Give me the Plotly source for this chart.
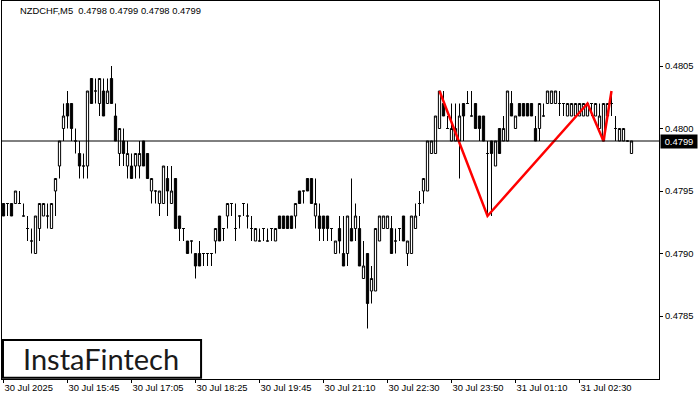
import plotly.graph_objects as go

# ---- data (NZDCHF, M5) ----
open_ = [
    0.4794, 0.4794, 0.4794, 0.4794, 0.4794, 0.4793, 0.4792, 0.4791, 0.4790, 0.4792,
    0.4793, 0.4793, 0.4792, 0.4795, 0.4797, 0.4800, 0.4802, 0.4802, 0.4799, 0.4798,
    0.4797, 0.4797, 0.4804, 0.4803, 0.4802, 0.4803, 0.4802, 0.4804, 0.4801, 0.4798,
    0.4799, 0.4797, 0.4797, 0.4797, 0.4797, 0.4799, 0.4798, 0.4795, 0.4795, 0.4794,
    0.4794, 0.4796, 0.4794, 0.4796, 0.4793, 0.4792, 0.4791, 0.4791, 0.4790, 0.4790,
    0.4790, 0.4790, 0.4790, 0.4791, 0.4793, 0.4792, 0.4793, 0.4794, 0.4792, 0.4793,
    0.4794, 0.4793, 0.4792, 0.4791, 0.4791, 0.4792, 0.4791, 0.4792, 0.4791, 0.4793,
    0.4793, 0.4793, 0.4793, 0.4793, 0.4795, 0.4795, 0.4796, 0.4796, 0.4793, 0.4793,
    0.4793, 0.4793, 0.4792, 0.4790, 0.4792, 0.4790, 0.4790, 0.4792, 0.4792, 0.4792,
    0.4788, 0.4790, 0.4787, 0.4787, 0.4791, 0.4792, 0.4792, 0.4792, 0.4791, 0.4792,
    0.4793, 0.4790, 0.4790, 0.4792, 0.4794, 0.4795, 0.4795, 0.4798, 0.4798, 0.4800,
    0.4802, 0.4800, 0.4799, 0.4799, 0.4799, 0.4802, 0.4802, 0.4801, 0.4802, 0.4801,
    0.4801, 0.4798, 0.4799, 0.4797, 0.4800, 0.4799, 0.4799, 0.4802, 0.4800, 0.4802,
    0.4802, 0.4802, 0.4802, 0.4800, 0.4800, 0.4801, 0.4802, 0.4802, 0.4802, 0.4802,
    0.4802, 0.4801, 0.4801, 0.4801, 0.4801, 0.4801, 0.4801, 0.4802, 0.4801, 0.4800,
    0.4799, 0.4801, 0.4802, 0.4800, 0.4799, 0.4799, 0.4799, 0.4798,
]
high = [
    0.4794, 0.4794, 0.4794, 0.4795, 0.4795, 0.4794, 0.4793, 0.4792, 0.4793, 0.4794,
    0.4794, 0.4794, 0.4794, 0.4796, 0.4799, 0.4802, 0.4803, 0.4802, 0.4800, 0.4799,
    0.4798, 0.4803, 0.4804, 0.4804, 0.4804, 0.4804, 0.4804, 0.4805, 0.4802, 0.4800,
    0.4800, 0.4799, 0.4798, 0.4798, 0.4799, 0.4799, 0.4798, 0.4796, 0.4795, 0.4795,
    0.4797, 0.4797, 0.4797, 0.4796, 0.4793, 0.4792, 0.4791, 0.4791, 0.4790, 0.4791,
    0.4790, 0.4790, 0.4790, 0.4792, 0.4793, 0.4792, 0.4794, 0.4794, 0.4794, 0.4793,
    0.4794, 0.4794, 0.4793, 0.4792, 0.4792, 0.4792, 0.4792, 0.4792, 0.4792, 0.4793,
    0.4793, 0.4793, 0.4793, 0.4794, 0.4795, 0.4795, 0.4796, 0.4796, 0.4796, 0.4794,
    0.4793, 0.4793, 0.4792, 0.4791, 0.4793, 0.4793, 0.4793, 0.4796, 0.4794, 0.4793,
    0.4791, 0.4790, 0.4789, 0.4792, 0.4793, 0.4793, 0.4793, 0.4793, 0.4792, 0.4792,
    0.4793, 0.4791, 0.4793, 0.4794, 0.4795, 0.4796, 0.4799, 0.4799, 0.4801, 0.4803,
    0.4803, 0.4801, 0.4802, 0.4802, 0.4802, 0.4802, 0.4803, 0.4803, 0.4802, 0.4801,
    0.4801, 0.4799, 0.4799, 0.4799, 0.4800, 0.4801, 0.4803, 0.4803, 0.4801, 0.4802,
    0.4802, 0.4802, 0.4802, 0.4801, 0.4802, 0.4802, 0.4803, 0.4803, 0.4803, 0.4803,
    0.4802, 0.4802, 0.4802, 0.4802, 0.4802, 0.4802, 0.4802, 0.4802, 0.4802, 0.4802,
    0.4802, 0.4802, 0.4803, 0.4801, 0.4800, 0.4800, 0.4799, 0.4799,
]
low = [
    0.4793, 0.4793, 0.4793, 0.4794, 0.4794, 0.4793, 0.4791, 0.4790, 0.4790, 0.4791,
    0.4793, 0.4792, 0.4792, 0.4793, 0.4796, 0.4799, 0.4800, 0.4799, 0.4798, 0.4796,
    0.4796, 0.4796, 0.4802, 0.4802, 0.4801, 0.4801, 0.4802, 0.4802, 0.4799, 0.4797,
    0.4797, 0.4796, 0.4796, 0.4796, 0.4796, 0.4797, 0.4796, 0.4794, 0.4794, 0.4793,
    0.4794, 0.4793, 0.4794, 0.4792, 0.4791, 0.4791, 0.4790, 0.4790, 0.4788, 0.4789,
    0.4789, 0.4789, 0.4789, 0.4790, 0.4791, 0.4791, 0.4792, 0.4793, 0.4791, 0.4792,
    0.4793, 0.4792, 0.4791, 0.4791, 0.4791, 0.4791, 0.4791, 0.4791, 0.4791, 0.4792,
    0.4792, 0.4792, 0.4792, 0.4792, 0.4794, 0.4794, 0.4795, 0.4794, 0.4792, 0.4791,
    0.4791, 0.4791, 0.4791, 0.4790, 0.4790, 0.4789, 0.4789, 0.4791, 0.4791, 0.4789,
    0.4788, 0.4784, 0.4786, 0.4787, 0.4791, 0.4792, 0.4792, 0.4790, 0.4790, 0.4791,
    0.4791, 0.4789, 0.4790, 0.4792, 0.4793, 0.4794, 0.4795, 0.4798, 0.4798, 0.4800,
    0.4801, 0.4800, 0.4799, 0.4799, 0.4796, 0.4799, 0.4802, 0.4801, 0.4800, 0.4799,
    0.4799, 0.4793, 0.4793, 0.4797, 0.4798, 0.4799, 0.4799, 0.4801, 0.4800, 0.4801,
    0.4801, 0.4801, 0.4801, 0.4799, 0.4799, 0.4801, 0.4802, 0.4802, 0.4802, 0.4801,
    0.4801, 0.4801, 0.4801, 0.4801, 0.4801, 0.4801, 0.4801, 0.4801, 0.4801, 0.4800,
    0.4799, 0.4801, 0.4801, 0.4799, 0.4799, 0.4799, 0.4799, 0.4798,
]
close = [
    0.4793, 0.4794, 0.4793, 0.4795, 0.4794, 0.4793, 0.4792, 0.4791, 0.4793, 0.4794,
    0.4794, 0.4793, 0.4794, 0.4796, 0.4799, 0.4801, 0.4801, 0.4800, 0.4799, 0.4797,
    0.4797, 0.4803, 0.4802, 0.4803, 0.4804, 0.4801, 0.4803, 0.4802, 0.4799, 0.4800,
    0.4798, 0.4798, 0.4796, 0.4798, 0.4798, 0.4797, 0.4796, 0.4796, 0.4795, 0.4795,
    0.4797, 0.4795, 0.4795, 0.4792, 0.4792, 0.4792, 0.4790, 0.4791, 0.4789, 0.4789,
    0.4790, 0.4790, 0.4790, 0.4792, 0.4791, 0.4792, 0.4794, 0.4794, 0.4792, 0.4793,
    0.4794, 0.4793, 0.4792, 0.4792, 0.4791, 0.4792, 0.4791, 0.4792, 0.4792, 0.4792,
    0.4792, 0.4792, 0.4792, 0.4794, 0.4794, 0.4795, 0.4795, 0.4794, 0.4794, 0.4792,
    0.4792, 0.4792, 0.4792, 0.4791, 0.4791, 0.4789, 0.4793, 0.4791, 0.4793, 0.4789,
    0.4789, 0.4786, 0.4788, 0.4792, 0.4793, 0.4793, 0.4793, 0.4790, 0.4791, 0.4792,
    0.4791, 0.4791, 0.4793, 0.4793, 0.4794, 0.4796, 0.4799, 0.4799, 0.4801, 0.4803,
    0.4801, 0.4800, 0.4800, 0.4800, 0.4801, 0.4801, 0.4802, 0.4801, 0.4800, 0.4800,
    0.4799, 0.4798, 0.4798, 0.4799, 0.4798, 0.4800, 0.4803, 0.4801, 0.4801, 0.4801,
    0.4801, 0.4801, 0.4801, 0.4799, 0.4802, 0.4801, 0.4803, 0.4803, 0.4803, 0.4802,
    0.4802, 0.4802, 0.4802, 0.4802, 0.4802, 0.4802, 0.4802, 0.4802, 0.4802, 0.4801,
    0.4802, 0.4802, 0.4802, 0.4800, 0.4800, 0.4800, 0.4799, 0.4799,
]
bar_index = list(range(len(close)))

time_tick_bars = [0, 16, 32, 48, 64, 80, 96, 112, 128, 144]
time_tick_labels = ["30 Jul 2025", "30 Jul 15:45", "30 Jul 17:05", "30 Jul 18:25",
                    "30 Jul 19:45", "30 Jul 21:10", "30 Jul 22:30", "30 Jul 23:50",
                    "31 Jul 01:10", "31 Jul 02:30"]
price_ticks = [0.4785, 0.4790, 0.4795, 0.4800, 0.4805]
price_tick_labels = ["0.4785", "0.4790", "0.4795", "0.4800", "0.4805"]

# pattern (red) line vertices
pattern_bars = [109, 121, 146, 150, 152]
pattern_prices = [0.4803, 0.4793, 0.4802, 0.4799, 0.4803]

current_price = 0.4799
header = "NZDCHF,M5\u00a0\u00a00.4798 0.4799 0.4798 0.4799"

FONT = "Liberation Sans"
FS = 9.4

fig = go.Figure()
fig.add_trace(go.Candlestick(
    x=bar_index, open=open_, high=high, low=low, close=close,
    increasing=dict(line=dict(color="black", width=1), fillcolor="white"),
    decreasing=dict(line=dict(color="black", width=1), fillcolor="black"),
    whiskerwidth=0, showlegend=False, hoverinfo="skip",
))
fig.add_trace(go.Scatter(
    x=pattern_bars, y=pattern_prices, mode="lines",
    line=dict(color="#ff0000", width=2.5), showlegend=False, hoverinfo="skip",
))

fig.add_shape(type="line", xref="paper", x0=0, x1=1, yref="y",
              y0=current_price, y1=current_price, line=dict(color="black", width=1))

# logo box
fig.add_shape(type="rect", xref="paper", yref="paper",
              x0=0.0015, x1=0.303, y0=0.003, y1=0.1035,
              line=dict(color="black", width=2), fillcolor="white", layer="above")
fig.add_annotation(text="InstaFintech", xref="paper", yref="paper",
                   x=0.151, y=0.053, xanchor="center", yanchor="middle",
                   showarrow=False, font=dict(family="Lato", size=29, color="#1a1a1a"))

# header
fig.add_annotation(text=header, xref="paper", yref="paper", x=0.024, y=0.976,
                   xanchor="left", yanchor="middle", showarrow=False,
                   font=dict(family=FONT, size=FS, color="black"))

# current price label
fig.add_annotation(text=f"{current_price:.4f}", xref="paper", yref="y",
                   x=1, y=current_price, xanchor="left", yanchor="middle",
                   xshift=1, showarrow=False, bgcolor="black", width=34, height=11,
                   borderpad=1, font=dict(family=FONT, size=FS, color="white"))

fig.update_layout(
    width=700, height=400,
    margin=dict(l=2, r=41, t=1, b=21),
    paper_bgcolor="white", plot_bgcolor="white",
    boxgap=0.2,
    xaxis=dict(
        range=[-0.375, 163.875], rangeslider=dict(visible=False),
        tickvals=time_tick_bars, ticktext=time_tick_labels,
        ticks="outside", ticklen=3, tickcolor="black",
        ticklabelposition="outside right",
        tickfont=dict(family=FONT, size=FS, color="black"),
        showgrid=False, zeroline=False,
        showline=True, mirror=True, linecolor="black", linewidth=1,
    ),
    yaxis=dict(
        range=[0.477996, 0.48102], side="right",
        tickvals=price_ticks, ticktext=price_tick_labels,
        ticks="outside", ticklen=3, tickcolor="black",
        tickfont=dict(family=FONT, size=FS, color="black"),
        showgrid=False, zeroline=False,
        showline=True, mirror=True, linecolor="black", linewidth=1,
    ),
)

fig.write_html("out.html", config={"displayModeBar": False},
               post_script="document.body.style.margin='0';document.body.style.overflow='hidden';")
